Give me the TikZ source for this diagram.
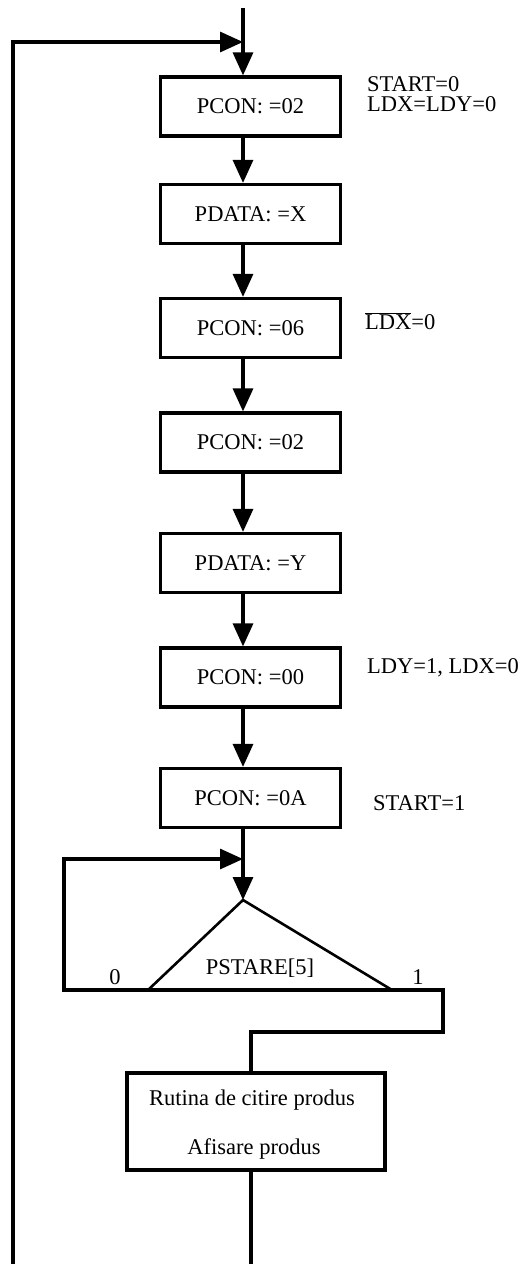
\documentclass[tikz,border=0pt]{standalone}
\usepackage{fontspec}
\setmainfont{Liberation Serif}
\usetikzlibrary{arrows.meta}
\begin{document}
\begin{tikzpicture}[x=1pt,y=-1pt,
  every node/.style={font=\fontsize{22.5}{26}\selectfont},
  stepbox/.style={draw,line width=3.2pt,minimum width=180pt,minimum height=59pt,inner sep=0pt},
  flow/.style={line width=3.2pt},
  tip/.style={-{Triangle[length=23pt,width=20pt]}},
  note/.style={anchor=base west,inner sep=0pt},
  label/.style={anchor=base,inner sep=0pt}]
\useasboundingbox (0,0) rectangle (522,1264);

% program steps
\node[stepbox] (b1) at (250.5,106.5) {PCON: =02};
\node[stepbox] (b2) at (250.5,214)   {PDATA: =X};
\node[stepbox] (b3) at (250.5,328)   {PCON: =06};
\node[stepbox] (b4) at (250.5,442.5) {PCON: =02};
\node[stepbox] (b5) at (250.5,563)   {PDATA: =Y};
\node[stepbox] (b6) at (250.5,677.5) {PCON: =00};
\node[stepbox] (b7) at (250.5,798)   {PCON: =0A};

% side notes on control signals
\node[note] (n1a) at (367,91)  {START=0};
\node[note] (n1b) at (367,111) {LDX=LDY=0};
\node[note] (n3)  at (365,329) {$\overline{\mbox{LDX}}$=0};
\node[note] (n6)  at (367,673) {LDY=1, LDX=0};
\node[note] (n7)  at (373,810) {START=1};

% flow axes
\coordinate (ax) at (243,0);
\coordinate (bx) at (251,0);

% entry and outer return loop
\coordinate (top) at (243,8);
\coordinate (ret) at (243,42);
\coordinate (lt)  at (13,42);
\coordinate (lb)  at (13,1264);
\draw[flow,tip] (top) -- (b1.north -| ax);
\draw[flow,tip] (lb) -- (lt) -- (ret);

% sequential steps
\foreach \a/\b in {b1/b2,b2/b3,b3/b4,b4/b5,b5/b6,b6/b7}
  \draw[flow,tip] (\a.south -| ax) -- (\b.north -| ax);

% decision on PSTARE[5]
\coordinate (apex) at (243,900);
\coordinate (tl) at (148,990);
\coordinate (tr) at (392,990);
\draw[line width=2.6pt,line join=miter] (tl) -- (apex) -- (tr);
\draw[flow] (tl) -- (tr);
\node[label] (cond) at (260,974) {PSTARE[5]};
\node[label] (c0) at (115,984) {0};
\node[label] (c1) at (418,984) {1};
\draw[flow,tip] (b7.south -| ax) -- (apex);

% busy-wait loop (bit = 0)
\coordinate (w0) at (64,990);
\coordinate (w1) at (64,859);
\coordinate (wj) at (243,859);
\draw[flow,tip] (tl) -- (w0) -- (w1) -- (wj);

% result routine
\node[draw,line width=3.2pt,minimum width=258pt,minimum height=97pt,inner sep=0pt] (b8) at (256,1121.5) {};
\node[label] (t8a) at (252,1105) {Rutina de citire produs};
\node[label] (t8b) at (254,1154) {Afisare produs};

% exit path (bit = 1)
\coordinate (r1) at (443,990);
\coordinate (r2) at (443,1032);
\coordinate (r3) at (251,1032);
\coordinate (end) at (251,1264);
\draw[flow] (tr) -- (r1) -- (r2) -- (r3) -- (b8.north -| bx);
\draw[flow] (b8.south -| bx) -- (end);
\end{tikzpicture}
\end{document}
